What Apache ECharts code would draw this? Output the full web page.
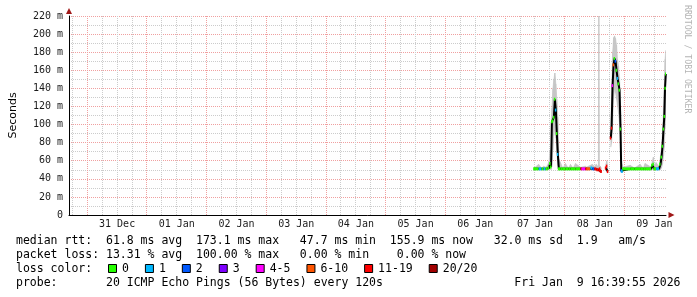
<!DOCTYPE html>
<html><head><meta charset="utf-8">
<script src="https://cdn.jsdelivr.net/npm/echarts@6/dist/echarts.min.js"></script>
<style>html,body{margin:0;padding:0;background:#fff}#c{width:697px;height:297px}</style>
</head><body><div id="c"></div>
<script>
// time in hours since 31 Dec 00:00
const times = [179.67,181.47,182.67,183.47,184.27,185.07,185.67,186.07,186.47,186.79,187.19,187.59,187.99,188.39,188.79,189.19,189.59,190.27,191.2,192.27,193.4,194.27,195.3,196.27,198.27,198.67,200.27,200.67,202.27,203.07,203.87,204.67,205.47,205.67,205.87,206.27,206.67,207.07,208.47,208.87,209.27,209.67,210.47,210.79,211.19,211.59,211.99,212.39,212.79,213.19,213.59,213.99,214.39,214.67,215.07,215.47,218.27,220.0,222.27,223.5,224.27,226.67,227.19,227.59,227.99,228.67,229.87,230.47,230.87,231.27,231.67,231.99,232.27,232.59];
const medianMs = [51,51,51,51,51,51,52,57,53,103,104,108,128,116,90,67,51,51,51,51,51,51,51,51,51,51,51,51,51,52,51,51,50,50,51,49,48,null,52,54,48,null,85,96,143,166,173,170,160,151,145,138,95,49,48,51,51,51,51,51,51,51,55,56,51,51,51,56,64,76,95,109,140,155.9];
const lossBucket = [0,0,1,0,1,0,0,0,0,0,0,0,0,1,0,1,0,0,0,0,0,0,0,0,0,6,4,6,5,1,2,6,6,6,6,6,6,null,6,6,6,null,6,6,4,5,0,2,0,1,0,0,0,2,1,0,0,0,0,0,0,0,0,0,0,0,1,0,0,0,0,0,0,0];
const smokeLo = [50,50,50,50,50,50,50,51,50,60,72,88,98,85,70,55,50,50,50,50,50,50,50,50,50,50,50,50,50,50,50,50,49,49,49,47,47,null,50,50,47,null,75,80,100,128,140,135,128,120,112,100,70,47,47,50,50,50,50,50,50,50,50,50,50,50,50,50,52,56,65,75,95,110];
const smokeHi = [52,56,52,54,53,55,60,72,66,118,140,150,157,145,128,108,62,58,52,57,52,56,52,57,53,53,54,53,55,56,54,56,53,240,55,54,52,null,56,60,52,null,102,130,180,196,198,195,188,172,165,152,120,62,56,53,55,52,56,52,57,53,60,64,55,58,54,66,76,92,118,142,172,182];

const dayLabels = ['31 Dec','01 Jan','02 Jan','03 Jan','04 Jan','05 Jan','06 Jan','07 Jan','08 Jan','09 Jan'];
const dayLabelHours = [12,36,60,84,108,132,156,180,204,228];
const midnightHours = [0,24,48,72,96,120,144,168,192,216];
const sixHourHours = [-6,6,12,18,30,36,42,54,60,66,78,84,90,102,108,114,126,132,138,150,156,162,174,180,186,198,204,210,222,228];

const lossLabels = ['0','1','2','3','4-5','6-10','11-19','20/20'];
const lossColors = ['#26ff00','#00b8ff','#0059ff','#7e00ff','#ff00ff','#ff5500','#ff0000','#a10000'];

const statLines = [
  'median rtt:  61.8 ms avg  173.1 ms max   47.7 ms min  155.9 ms now   32.0 ms sd  1.9   am/s',
  'packet loss: 13.31 % avg  100.00 % max   0.00 % min    0.00 % now',
  'loss color:',
  'probe:       20 ICMP Echo Pings (56 Bytes) every 120s'
];
const stampText = 'Fri Jan  9 16:39:55 2026';

const X_MIN = -7.3333, X_MAX = 232.6667, Y_MAX = 220;
const MONO = '"DejaVu Sans Mono", monospace';
const MAJOR = '#f0a0a0', MINOR = '#cccccc';

const chart = echarts.init(document.getElementById('c'), null, {renderer: 'canvas'});

const vGrid = sixHourHours.map(h => [h, 0]).concat(midnightHours.map(h => [h, 1]));
const smokeSegs = [];
for (let i = 1; i < times.length; i++) {
  if (smokeHi[i] == null || smokeHi[i - 1] == null) continue;
  smokeSegs.push([times[i - 1], smokeLo[i - 1], smokeHi[i - 1], times[i], smokeLo[i], smokeHi[i]]);
}
const medLine = times.map((t, i) => [t, medianMs[i]]);
const lossMarks = [];
times.forEach((t, i) => {
  if (medianMs[i] == null) return;
  const tPrev = (i > 0 && medianMs[i - 1] != null) ? times[i - 1] : t - 0.4;
  lossMarks.push([tPrev, t, medianMs[i], lossBucket[i]]);
});

const graphic = [];
const lineY = [241, 255, 269, 283];
statLines.forEach((s, i) => {
  graphic.push({type: 'text', x: 16, y: lineY[i], style: {text: s, font: '11.5px ' + MONO, fill: '#000', textVerticalAlign: 'middle'}});
});
graphic.push({type: 'text', x: 680.5, y: lineY[3], style: {text: stampText, font: '11.5px ' + MONO, fill: '#000', textAlign: 'right', textVerticalAlign: 'middle'}});
let bx = 108.5;
lossLabels.forEach((lab, i) => {
  graphic.push({type: 'rect', shape: {x: bx, y: 264.5, width: 8, height: 8}, style: {fill: lossColors[i], stroke: '#000', lineWidth: 1}});
  graphic.push({type: 'text', x: bx + 13.5, y: lineY[2], style: {text: lab, font: '11.5px ' + MONO, fill: '#000', textVerticalAlign: 'middle'}});
  bx += 30 + lab.length * 6.92;
});
graphic.push({type: 'text', x: 687, y: 5, rotation: -Math.PI / 2, style: {text: 'RRDTOOL / TOBI OETIKER', font: '8.2px ' + MONO, fill: '#b4b4b4', textAlign: 'left', textVerticalAlign: 'middle'}});

chart.setOption({
  animation: false,
  backgroundColor: '#ffffff',
  grid: {left: 66, right: 31, top: 16, bottom: 82, containLabel: false},
  xAxis: [
    {
      type: 'value', min: X_MIN, max: X_MAX, position: 'bottom',
      axisLine: {show: true, onZero: false, lineStyle: {color: '#000', width: 1}},
      axisTick: {show: false},
      axisLabel: {show: true, customValues: dayLabelHours, margin: 4,
        fontFamily: 'DejaVu Sans Mono', fontSize: 10, color: '#1a1a1a',
        formatter: v => dayLabels[dayLabelHours.indexOf(v)] || ''},
      splitLine: {show: false}
    },
    { // arrow
      type: 'value', min: X_MIN, max: X_MAX, position: 'bottom',
      axisLine: {show: true, onZero: false, symbol: ['none', 'triangle'], symbolSize: [6, 6], symbolOffset: [0, 5.5],
        lineStyle: {color: '#a01818', width: 0}},
      axisTick: {show: false}, axisLabel: {show: false}, splitLine: {show: false}
    }
  ],
  yAxis: [
    {
      type: 'value', min: 0, max: Y_MAX, interval: 20, position: 'left',
      name: 'Seconds', nameLocation: 'middle', nameGap: 50, nameRotate: 90,
      nameTextStyle: {fontFamily: 'DejaVu Sans', fontSize: 11, color: '#000'},
      axisLine: {show: true, onZero: false, lineStyle: {color: '#000', width: 1}},
      axisTick: {show: false},
      axisLabel: {margin: 6, fontFamily: 'DejaVu Sans Mono', fontSize: 10, color: '#1a1a1a',
        formatter: v => v === 0 ? '0' : v + ' m'},
      splitLine: {show: true, lineStyle: {color: MAJOR, width: 1, type: [1, 1]}},
      minorTick: {show: false, splitNumber: 2},
      minorSplitLine: {show: true, lineStyle: {color: MINOR, width: 1, type: [1, 1]}}
    },
    {
      type: 'value', min: 0, max: Y_MAX, position: 'left',
      axisLine: {show: true, onZero: false, symbol: ['none', 'triangle'], symbolSize: [6, 6], symbolOffset: [0, 5],
        lineStyle: {color: '#a01818', width: 0}},
      axisTick: {show: false}, axisLabel: {show: false}, splitLine: {show: false}
    }
  ],
  series: [
    {type: 'custom', xAxisIndex: 0, yAxisIndex: 0, data: vGrid, z: 0, silent: true, clip: false,
      encode: {x: 0},
      renderItem: function (params, api) {
        const h = api.value(0);
        const p0 = api.coord([h, 0]);
        const p1 = api.coord([h, Y_MAX]);
        const x = Math.floor(p0[0]) + 0.5;
        return {type: 'line', shape: {x1: x, y1: p0[1], x2: x, y2: p1[1]},
          style: {stroke: api.value(1) ? MAJOR : MINOR, lineWidth: 1, lineDash: [1, 1]}, z2: api.value(1) ? 2 : 1};
      }
    },
    {type: 'custom', xAxisIndex: 0, yAxisIndex: 0, data: smokeSegs, z: 2, silent: true, clip: true,
      encode: {x: [0, 3], y: [1, 2, 4, 5]},
      renderItem: function (params, api) {
        const a = api.coord([api.value(0), api.value(1)]);
        const b = api.coord([api.value(0), api.value(2)]);
        const c = api.coord([api.value(3), api.value(5)]);
        const d = api.coord([api.value(3), api.value(4)]);
        return {type: 'polygon', shape: {points: [a, b, c, d]}, style: {fill: '#c4c4c4', stroke: '#c4c4c4', lineWidth: 0.5}};
      }
    },
    {type: 'line', xAxisIndex: 0, yAxisIndex: 0, data: medLine, symbol: 'none', connectNulls: false,
      lineStyle: {color: '#000', width: 2}, z: 3, silent: true},
    {type: 'custom', xAxisIndex: 0, yAxisIndex: 0, data: lossMarks, z: 4, silent: true, clip: true,
      renderItem: function (params, api) {
        const p0 = api.coord([api.value(0), api.value(2)]);
        const p1 = api.coord([api.value(1), api.value(2)]);
        const w = Math.max(p1[0] - p0[0], 1.5);
        return {type: 'rect', shape: {x: p0[0], y: p0[1] - 1.5, width: w, height: 3},
          style: {fill: lossColors[api.value(3)]}};
      },
      encode: {x: [0, 1], y: 2}
    }
  ],
  graphic: graphic
});
</script></body></html>
